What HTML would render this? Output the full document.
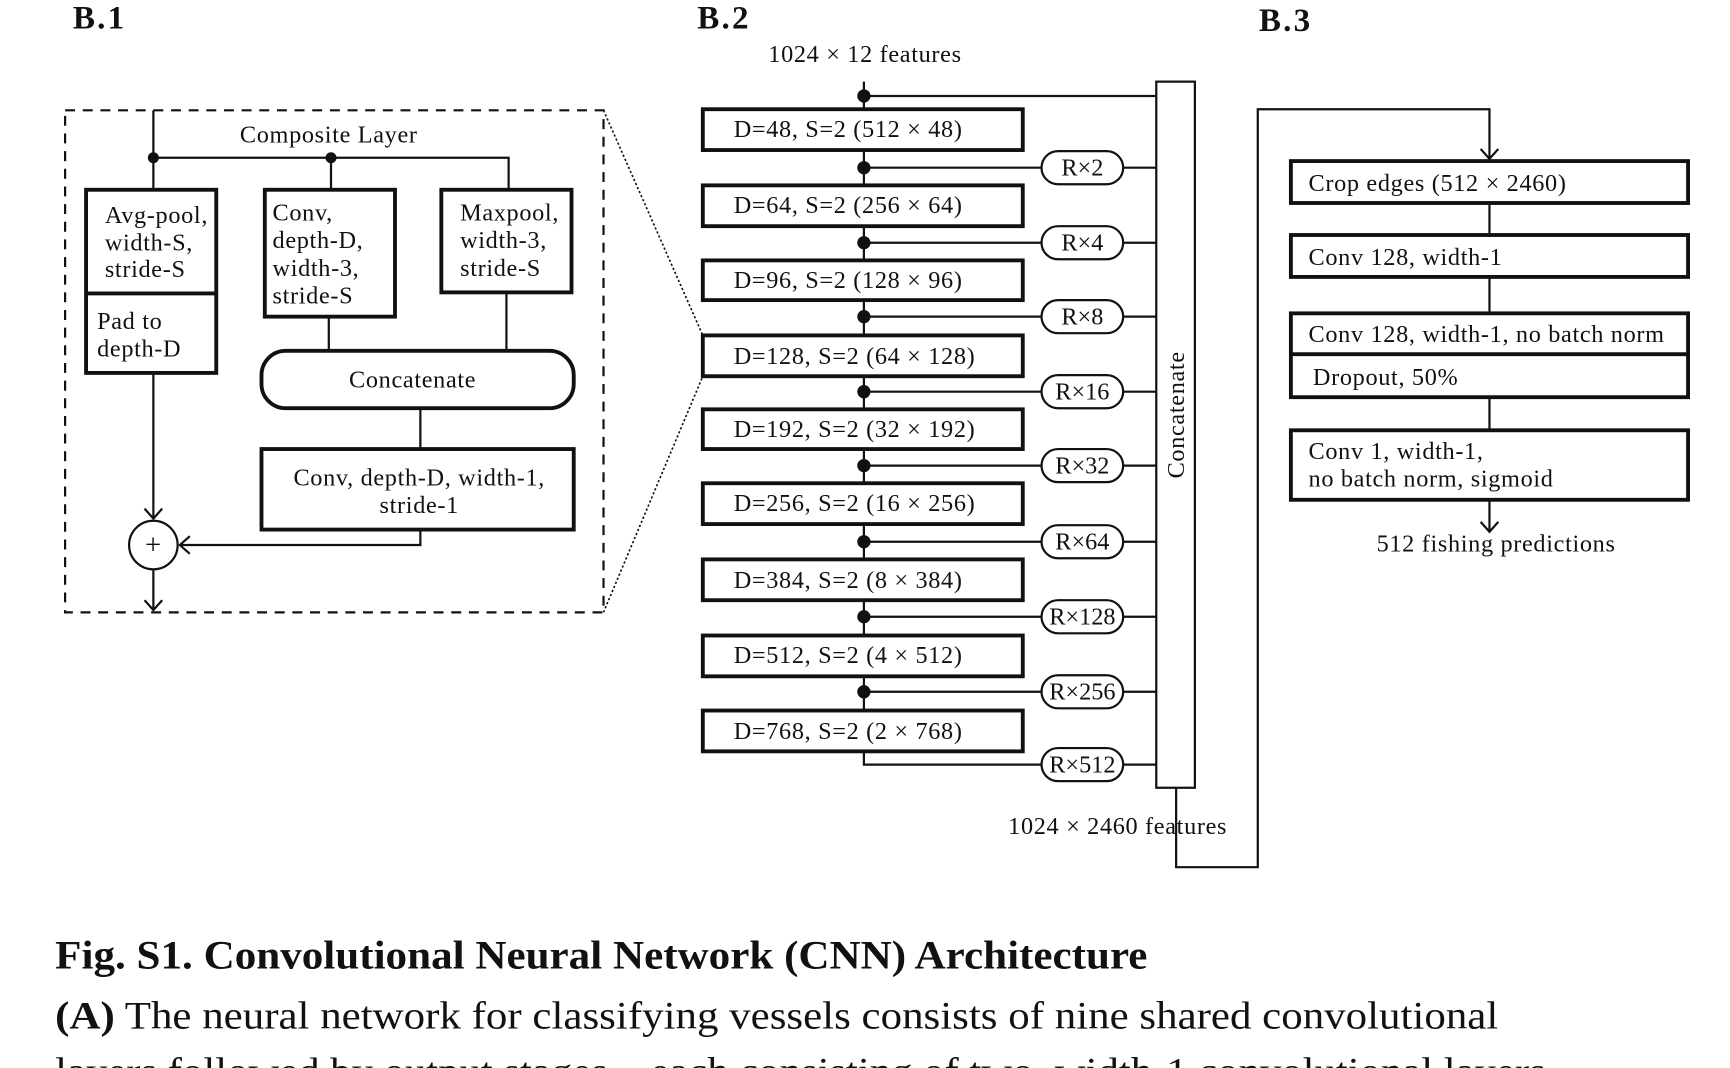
<!DOCTYPE html>
<html><head><meta charset="utf-8"><style>
html,body{margin:0;padding:0;background:#fff;overflow:hidden}
svg{display:block}
text{font-family:"Liberation Serif",serif;fill:#111}
.l{letter-spacing:0.6px}
</style></head><body>
<svg width="1730" height="1068" viewBox="0 0 1568 968" xmlns="http://www.w3.org/2000/svg">
<defs>
<marker id="a" markerWidth="20" markerHeight="20" refX="10" refY="10" orient="auto" markerUnits="userSpaceOnUse">
<path d="M1,2 L10,10 L1,18" fill="none" stroke="#111" stroke-width="2"/>
</marker>
</defs>
<g font-size="30" font-weight="bold" letter-spacing="2">
<text x="66" y="26">B.1</text><text x="632" y="26">B.2</text><text x="1141" y="28">B.3</text>
</g>
<g stroke="#111" fill="none" stroke-width="2">
<rect x="59" y="100" width="488" height="455" stroke-dasharray="9,7" stroke-width="2"/>
<path d="M547,100 L637,304 M547,555 L637,341" stroke-dasharray="2,2" stroke-width="1.5"/>
<path d="M139,100 V172 M139,143 H461 V172 M300,143 V172"/>
<path d="M298,287 V318 M459,265 V318 M381,370 V407"/>
<path d="M139,338 V470" marker-end="url(#a)"/>
<path d="M381,480 V494 H163" marker-end="url(#a)"/>
<path d="M139,516 V553" marker-end="url(#a)"/>
<g stroke-width="3.5">
<rect x="78" y="172" width="118" height="166"/>
<line x1="78" y1="266" x2="196" y2="266"/>
<rect x="240" y="172" width="118" height="115"/>
<rect x="400" y="172" width="118" height="93"/>
<rect x="237" y="318" width="283" height="52" rx="22"/>
<rect x="237" y="407" width="283" height="73"/>
</g>
<circle cx="139" cy="494" r="22" stroke-width="2"/>
<path d="M783,74 V644 M783,681 V693 H944 M783,87 H1048"/>
<path d="M783,152 H944 M783,220 H944 M783,287 H944 M783,355 H944 M783,422 H944 M783,491 H944 M783,559 H944 M783,627 H944"/>
<path d="M1018,152 H1048 M1018,220 H1048 M1018,287 H1048 M1018,355 H1048 M1018,422 H1048 M1018,491 H1048 M1018,559 H1048 M1018,627 H1048 M1018,693 H1048"/>
<rect x="1048" y="74" width="35" height="640"/>
<path d="M1066,714 V786 H1140 V99 H1350 V144" marker-end="url(#a)"/>
<g stroke-width="3.5" fill="#fff">
<rect x="637" y="99" width="290" height="37"/>
<rect x="637" y="168" width="290" height="37"/>
<rect x="637" y="236" width="290" height="36"/>
<rect x="637" y="304" width="290" height="37"/>
<rect x="637" y="371" width="290" height="36"/>
<rect x="637" y="438" width="290" height="37"/>
<rect x="637" y="507" width="290" height="37"/>
<rect x="637" y="576" width="290" height="37"/>
<rect x="637" y="644" width="290" height="37"/>
</g>
<g stroke-width="2" fill="#fff">
<rect x="944" y="137" width="74" height="30" rx="15"/>
<rect x="944" y="205" width="74" height="30" rx="15"/>
<rect x="944" y="272" width="74" height="30" rx="15"/>
<rect x="944" y="340" width="74" height="30" rx="15"/>
<rect x="944" y="407" width="74" height="30" rx="15"/>
<rect x="944" y="476" width="74" height="30" rx="15"/>
<rect x="944" y="544" width="74" height="30" rx="15"/>
<rect x="944" y="612" width="74" height="30" rx="15"/>
<rect x="944" y="678" width="74" height="30" rx="15"/>
</g>
<path d="M1350,184 V213 M1350,251 V284 M1350,360 V390"/>
<path d="M1350,453 V482" marker-end="url(#a)"/>
<g stroke-width="3.5">
<rect x="1170" y="146" width="360" height="38"/>
<rect x="1170" y="213" width="360" height="38"/>
<rect x="1170" y="284" width="360" height="76"/>
<line x1="1170" y1="321" x2="1530" y2="321"/>
<rect x="1170" y="390" width="360" height="63"/>
</g>
</g>
<g fill="#111">
<circle cx="139" cy="143" r="5"/><circle cx="300" cy="143" r="5"/>
<circle cx="783" cy="87" r="6"/><circle cx="783" cy="152" r="6"/><circle cx="783" cy="220" r="6"/><circle cx="783" cy="287" r="6"/><circle cx="783" cy="355" r="6"/><circle cx="783" cy="422" r="6"/><circle cx="783" cy="491" r="6"/><circle cx="783" cy="559" r="6"/><circle cx="783" cy="627" r="6"/>
</g>
<g font-size="22" class="l">
<text x="298" y="129" text-anchor="middle">Composite Layer</text>
<text x="95" y="202">Avg-pool,</text><text x="95" y="227">width-S,</text><text x="95" y="251">stride-S</text>
<text x="88" y="298">Pad to</text><text x="88" y="323">depth-D</text>
<text x="247" y="200">Conv,</text><text x="247" y="225">depth-D,</text><text x="247" y="250">width-3,</text><text x="247" y="275">stride-S</text>
<text x="417" y="200">Maxpool,</text><text x="417" y="225">width-3,</text><text x="417" y="250">stride-S</text>
<text x="374" y="351" text-anchor="middle">Concatenate</text>
<text x="380" y="440" text-anchor="middle">Conv, depth-D, width-1,</text>
<text x="380" y="465" text-anchor="middle">stride-1</text>
<text x="139" y="502" text-anchor="middle" font-size="26">+</text>
<text x="784" y="56" text-anchor="middle">1024 × 12 features</text>
<text x="665" y="124">D=48, S=2 (512 × 48)</text>
<text x="665" y="193">D=64, S=2 (256 × 64)</text>
<text x="665" y="261">D=96, S=2 (128 × 96)</text>
<text x="665" y="330">D=128, S=2 (64 × 128)</text>
<text x="665" y="396">D=192, S=2 (32 × 192)</text>
<text x="665" y="463">D=256, S=2 (16 × 256)</text>
<text x="665" y="533">D=384, S=2 (8 × 384)</text>
<text x="665" y="601">D=512, S=2 (4 × 512)</text>
<text x="665" y="670">D=768, S=2 (2 × 768)</text>
<g text-anchor="middle" letter-spacing="0">
<text x="981" y="159">R×2</text><text x="981" y="227">R×4</text><text x="981" y="294">R×8</text>
<text x="981" y="362">R×16</text><text x="981" y="429">R×32</text><text x="981" y="498">R×64</text>
<text x="981" y="566">R×128</text><text x="981" y="634">R×256</text><text x="981" y="700">R×512</text>
</g>
<text transform="translate(1073,376) rotate(-90)" text-anchor="middle">Concatenate</text>
<text x="1013" y="756" text-anchor="middle">1024 × 2460 features</text>
<text x="1186" y="173">Crop edges (512 × 2460)</text>
<text x="1186" y="240">Conv 128, width-1</text>
<text x="1186" y="310">Conv 128, width-1, no batch norm</text>
<text x="1190" y="349">Dropout, 50%</text>
<text x="1186" y="416">Conv 1, width-1,</text>
<text x="1186" y="441">no batch norm, sigmoid</text>
<text x="1356" y="500" text-anchor="middle">512 fishing predictions</text>
</g>
<text x="50" y="878" font-size="36" font-weight="bold" textLength="990" lengthAdjust="spacingAndGlyphs">Fig. S1. Convolutional Neural Network (CNN) Architecture</text>
<text x="50" y="932" font-size="35" textLength="1308" lengthAdjust="spacingAndGlyphs"><tspan font-weight="bold">(A)</tspan> The neural network for classifying vessels consists of nine shared convolutional</text>
<text x="50" y="983" font-size="35" textLength="1380" lengthAdjust="spacingAndGlyphs">layers followed by output stages – each consisting of two, width-1 convolutional layers –</text>
</svg>
</body></html>
